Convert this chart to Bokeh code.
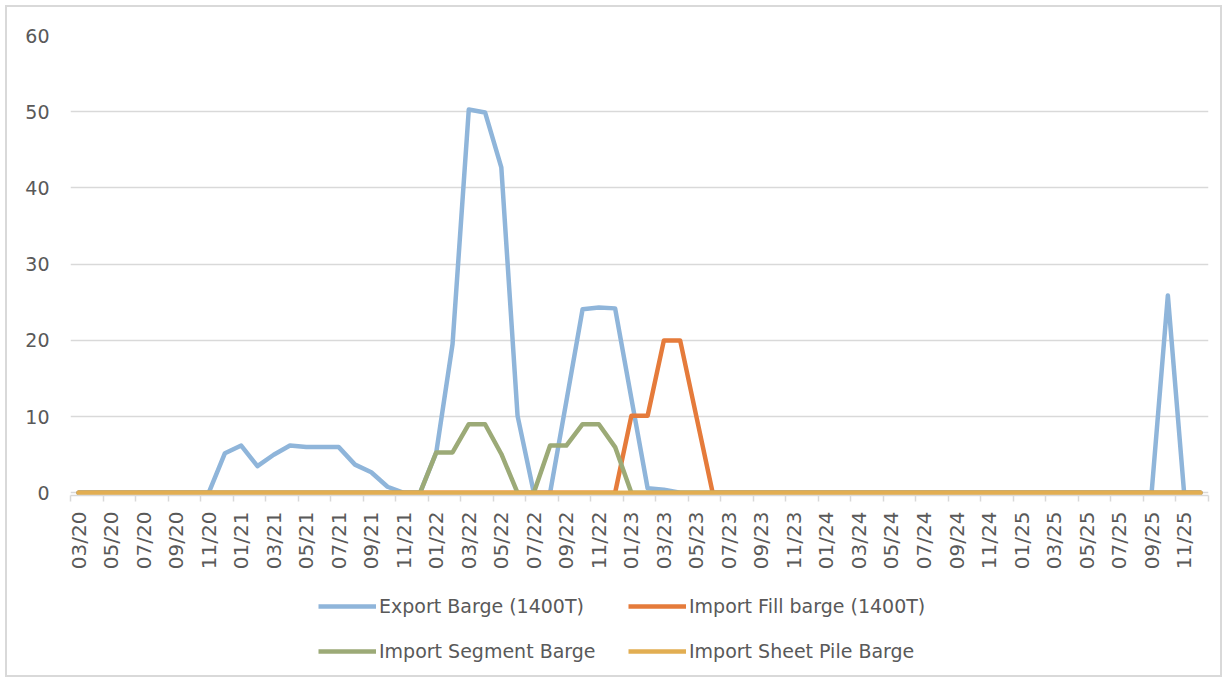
import math
from bokeh.plotting import figure
from bokeh.layouts import column
from bokeh.models import Range1d, FixedTicker, Legend, LegendItem
from bokeh.embed import file_html
from bokeh.resources import INLINE

months = [
    "03/20", "04/20", "05/20", "06/20", "07/20", "08/20", "09/20", "10/20", "11/20", "12/20",
    "01/21", "02/21", "03/21", "04/21", "05/21", "06/21", "07/21", "08/21", "09/21", "10/21", "11/21", "12/21",
    "01/22", "02/22", "03/22", "04/22", "05/22", "06/22", "07/22", "08/22", "09/22", "10/22", "11/22", "12/22",
    "01/23", "02/23", "03/23", "04/23", "05/23", "06/23", "07/23", "08/23", "09/23", "10/23", "11/23", "12/23",
    "01/24", "02/24", "03/24", "04/24", "05/24", "06/24", "07/24", "08/24", "09/24", "10/24", "11/24", "12/24",
    "01/25", "02/25", "03/25", "04/25", "05/25", "06/25", "07/25", "08/25", "09/25", "10/25", "11/25", "12/25",
]

export_barge = [
    0, 0, 0, 0, 0, 0, 0, 0, 0, 5.2,
    6.2, 3.5, 5.0, 6.2, 6.0, 6.0, 6.0, 3.7, 2.7, 0.8, 0, 0,
    5.3, 19.5, 50.3, 49.9, 42.7, 10.1, 0, 0, 12.0, 24.1, 24.3, 24.2,
    12.4, 0.6, 0.4, 0, 0, 0, 0, 0, 0, 0, 0, 0,
    0, 0, 0, 0, 0, 0, 0, 0, 0, 0, 0, 0,
    0, 0, 0, 0, 0, 0, 0, 0, 0, 25.9, 0, 0,
]
fill_barge = [
    0, 0, 0, 0, 0, 0, 0, 0, 0, 0,
    0, 0, 0, 0, 0, 0, 0, 0, 0, 0, 0, 0,
    0, 0, 0, 0, 0, 0, 0, 0, 0, 0, 0, 0,
    10.1, 10.1, 20.0, 20.0, 10.0, 0, 0, 0, 0, 0, 0, 0,
    0, 0, 0, 0, 0, 0, 0, 0, 0, 0, 0, 0,
    0, 0, 0, 0, 0, 0, 0, 0, 0, 0, 0, 0,
]
segment_barge = [
    0, 0, 0, 0, 0, 0, 0, 0, 0, 0,
    0, 0, 0, 0, 0, 0, 0, 0, 0, 0, 0, 0,
    5.3, 5.3, 9.0, 9.0, 5.1, 0, 0, 6.2, 6.2, 9.0, 9.0, 6.0,
    0, 0, 0, 0, 0, 0, 0, 0, 0, 0, 0, 0,
    0, 0, 0, 0, 0, 0, 0, 0, 0, 0, 0, 0,
    0, 0, 0, 0, 0, 0, 0, 0, 0, 0, 0, 0,
]
sheet_pile_barge = [
    0, 0, 0, 0, 0, 0, 0, 0, 0, 0,
    0, 0, 0, 0, 0, 0, 0, 0, 0, 0, 0, 0,
    0, 0, 0, 0, 0, 0, 0, 0, 0, 0, 0, 0,
    0, 0, 0, 0, 0, 0, 0, 0, 0, 0, 0, 0,
    0, 0, 0, 0, 0, 0, 0, 0, 0, 0, 0, 0,
    0, 0, 0, 0, 0, 0, 0, 0, 0, 0, 0, 0,
]
series_names = ["Export Barge (1400T)", "Import Fill barge (1400T)",
                "Import Segment Barge", "Import Sheet Pile Barge"]
series_colors = ["#8FB5DA", "#E57B3B", "#9CAA77", "#E2AE52"]
y_ticks = [0, 10, 20, 30, 40, 50, 60]

x = list(range(len(months)))
all_series = [export_barge, fill_barge, segment_barge, sheet_pile_barge]
FONT = "DejaVu Sans"
TXT = "#595959"
GRID = "#d9d9d9"
W = 1213
LW = 4.5

p = figure(width=W, height=573, output_backend="svg", toolbar_location=None,
           x_range=Range1d(-0.5, len(months) - 0.5), y_range=Range1d(-0.35, 60),
           min_border_left=63, min_border_right=12, min_border_top=28, min_border_bottom=85)
p.outline_line_color = None
p.background_fill_color = "white"
p.border_fill_color = "white"

p.xgrid.visible = False
p.ygrid.ticker = FixedTicker(ticks=y_ticks)
p.ygrid.grid_line_color = GRID
p.ygrid.grid_line_width = 1.6

# y axis
p.yaxis.ticker = FixedTicker(ticks=y_ticks)
p.yaxis.axis_line_color = None
p.yaxis.major_tick_line_color = None
p.yaxis.minor_tick_line_color = None
p.yaxis.major_label_standoff = 15
p.yaxis.major_label_text_font = FONT
p.yaxis.major_label_text_font_size = "19px"
p.yaxis.major_label_text_color = TXT

# x axis
label_pos = list(range(0, len(months), 2))
bounds = [i - 0.5 for i in range(0, len(months) + 1, 2)]
p.xaxis.ticker = FixedTicker(ticks=label_pos, minor_ticks=bounds)
p.xaxis.major_label_overrides = {i: months[i] for i in label_pos}
p.xaxis.major_label_orientation = math.pi / 2
p.xaxis.axis_line_color = GRID
p.xaxis.axis_line_width = 1.5
p.xaxis.major_tick_out = 0
p.xaxis.major_tick_in = 0
p.xaxis.minor_tick_out = 6
p.xaxis.minor_tick_in = 0
p.xaxis.minor_tick_line_color = GRID
p.xaxis.minor_tick_line_width = 1.5
p.xaxis.major_label_standoff = 10
p.xaxis.major_label_text_font = FONT
p.xaxis.major_label_text_font_size = "20px"
p.xaxis.major_label_text_color = TXT

for vals, col in zip(all_series, series_colors):
    p.line(x, vals, line_color=col, line_width=LW, line_join="round", line_cap="round")

# legend strip below the chart (its series sit outside the visible range; only the legend shows)
LH = 95
q = figure(width=W, height=LH, output_backend="svg", toolbar_location=None,
           x_range=Range1d(1000, 1000 + W), y_range=Range1d(0, LH),
           x_axis_type=None, y_axis_type=None,
           min_border_left=0, min_border_right=0, min_border_top=0, min_border_bottom=0)
q.outline_line_color = None
q.background_fill_color = "white"
q.border_fill_color = "white"
q.grid.visible = False
legend_renderers = [q.line(x, vals, line_color=c, line_width=LW)
                    for vals, c in zip(all_series, series_colors)]

def make_legend(idx, xloc):
    items = [LegendItem(label=series_names[i], renderers=[legend_renderers[i]]) for i in idx]
    return Legend(items=items, location=(xloc, 13), orientation="vertical",
                  glyph_width=58, glyph_height=22, label_height=22, spacing=23,
                  padding=0, margin=0, label_standoff=3,
                  border_line_color=None, background_fill_alpha=0,
                  label_text_font=FONT, label_text_font_size="19px", label_text_color=TXT)

q.add_layout(make_legend([0, 2], 248), "center")
q.add_layout(make_legend([1, 3], 558), "center")

layout = column(p, q, spacing=0,
                styles={"border": "2px solid #d9d9d9", "margin-left": "5px", "margin-top": "5px"})

open("out.html", "w").write(file_html(layout, INLINE))
